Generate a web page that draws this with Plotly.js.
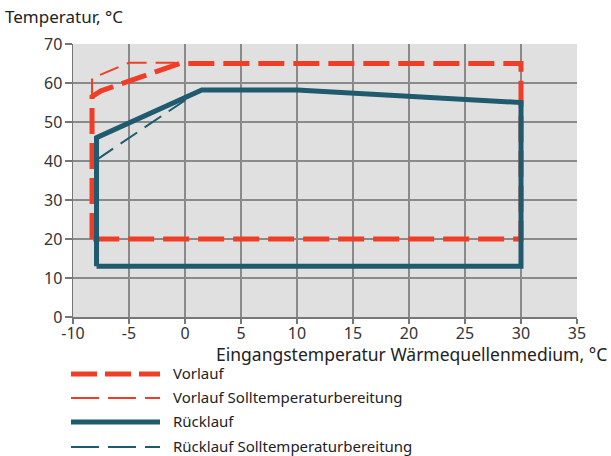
<!DOCTYPE html>
<html>
<head>
<meta charset="utf-8">
<script src="https://cdn.plot.ly/plotly-3.0.1.min.js"></script>
<style>html,body{margin:0;padding:0;background:#fff}#chart{width:611px;height:456px}</style>
</head>
<body>
<div id="chart"></div>
<script>
// ---- data ----
const seriesNames = ["Vorlauf", "Vorlauf Solltemperaturbereitung", "Rücklauf", "Rücklauf Solltemperaturbereitung"];
const vorlaufX = [-8.3, -8.3, -7.5, -0.5, 30, 30, -8.3];
const vorlaufY = [20, 56.5, 58, 65, 65, 20, 20];
const vorlaufSollX = [-8.3, -8.3, -5, 0];
const vorlaufSollY = [56, 61.2, 65.2, 65.2];
const ruecklaufX = [-7.9, -7.9, 1.5, 10, 30, 30, -7.9];
const ruecklaufY = [13, 46, 58.2, 58.2, 55, 13, 13];
const ruecklaufSollX = [-7.9, 1];
const ruecklaufSollY = [40.3, 57.5];
const xTicks = [-10, -5, 0, 5, 10, 15, 20, 25, 30, 35];
const yTicks = [0, 10, 20, 30, 40, 50, 60, 70];

const RED = "#f03e26", TEAL = "#1f5a6e";
const FONT = "Noto Sans";
const L = 73, R = 577, T = 44, B = 317;
const px = x => (x - L) / (R - L);
const py = y => (B - y) / (B - T);

const traces = [
  {x: vorlaufSollX, y: vorlaufSollY, name: seriesNames[1], mode: "lines",
   line: {color: RED, width: 2, dash: "20px,9px"}},
  {x: vorlaufX, y: vorlaufY, name: seriesNames[0], mode: "lines",
   line: {color: RED, width: 5, dash: "26px,9px"}},
  {x: ruecklaufSollX, y: ruecklaufSollY, name: seriesNames[3], mode: "lines",
   line: {color: TEAL, width: 2, dash: "20px,9px"}},
  {x: ruecklaufX, y: ruecklaufY, name: seriesNames[2], mode: "lines",
   line: {color: TEAL, width: 5}}
];

// legend samples (manual, to get long line samples)
const legendRows = [
  {name: seriesNames[0], y: 374, color: RED, width: 5, dash: "26px,8px"},
  {name: seriesNames[1], y: 398, color: RED, width: 2, dash: "28px,9px"},
  {name: seriesNames[2], y: 422, color: TEAL, width: 5, dash: "solid"},
  {name: seriesNames[3], y: 447, color: TEAL, width: 2, dash: "28px,9px"}
];
const shapes = legendRows.map(r => ({
  type: "line", xref: "paper", yref: "paper",
  x0: px(71), x1: px(160), y0: py(r.y), y1: py(r.y),
  line: {color: r.color, width: r.width, dash: r.dash}
}));
const annotations = legendRows.map(r => ({
  xref: "paper", yref: "paper", x: px(171), y: py(r.y - 1),
  xanchor: "left", yanchor: "middle", showarrow: false,
  text: r.name, font: {family: FONT, size: 15, color: "#222"}
}));
annotations.push({
  xref: "paper", yref: "paper", x: px(3), y: py(17),
  xanchor: "left", yanchor: "middle", showarrow: false,
  text: "Temperatur, °C", font: {family: FONT, size: 17, color: "#222"}
});
annotations.push({
  xref: "paper", yref: "paper", x: px(609), y: py(354),
  xanchor: "right", yanchor: "middle", showarrow: false,
  text: "Eingangstemperatur Wärmequellenmedium, °C", font: {family: FONT, size: 17.5, color: "#222"}
});

const layout = {
  width: 611, height: 456,
  margin: {l: L, r: 611 - R, t: T, b: 456 - B, pad: 0},
  paper_bgcolor: "#ffffff", plot_bgcolor: "#e0e0e0",
  showlegend: false,
  font: {family: FONT, size: 16, color: "#333"},
  xaxis: {
    range: [-10, 35], tickvals: xTicks, ticktext: xTicks.map(String),
    showgrid: true, gridcolor: "#8a8a8a", gridwidth: 1.5,
    showline: true, linecolor: "#777", linewidth: 1.5,
    ticks: "outside", ticklen: 5, tickcolor: "#777", tickwidth: 1.5,
    ticklabelstandoff: -4,
    zeroline: false, fixedrange: true,
    tickfont: {family: FONT, size: 16, color: "#333"}
  },
  yaxis: {
    range: [0, 70], tickvals: yTicks, ticktext: yTicks.map(String),
    showgrid: true, gridcolor: "#8a8a8a", gridwidth: 1.5,
    showline: true, linecolor: "#777", linewidth: 1.5,
    ticks: "outside", ticklen: 7, tickcolor: "#777", tickwidth: 1.5,
    ticklabelstandoff: -1,
    zeroline: false, fixedrange: true,
    tickfont: {family: FONT, size: 16, color: "#333"}
  },
  shapes: shapes,
  annotations: annotations
};

Plotly.newPlot("chart", traces, layout, {displayModeBar: false, staticPlot: true});
</script>
</body>
</html>
